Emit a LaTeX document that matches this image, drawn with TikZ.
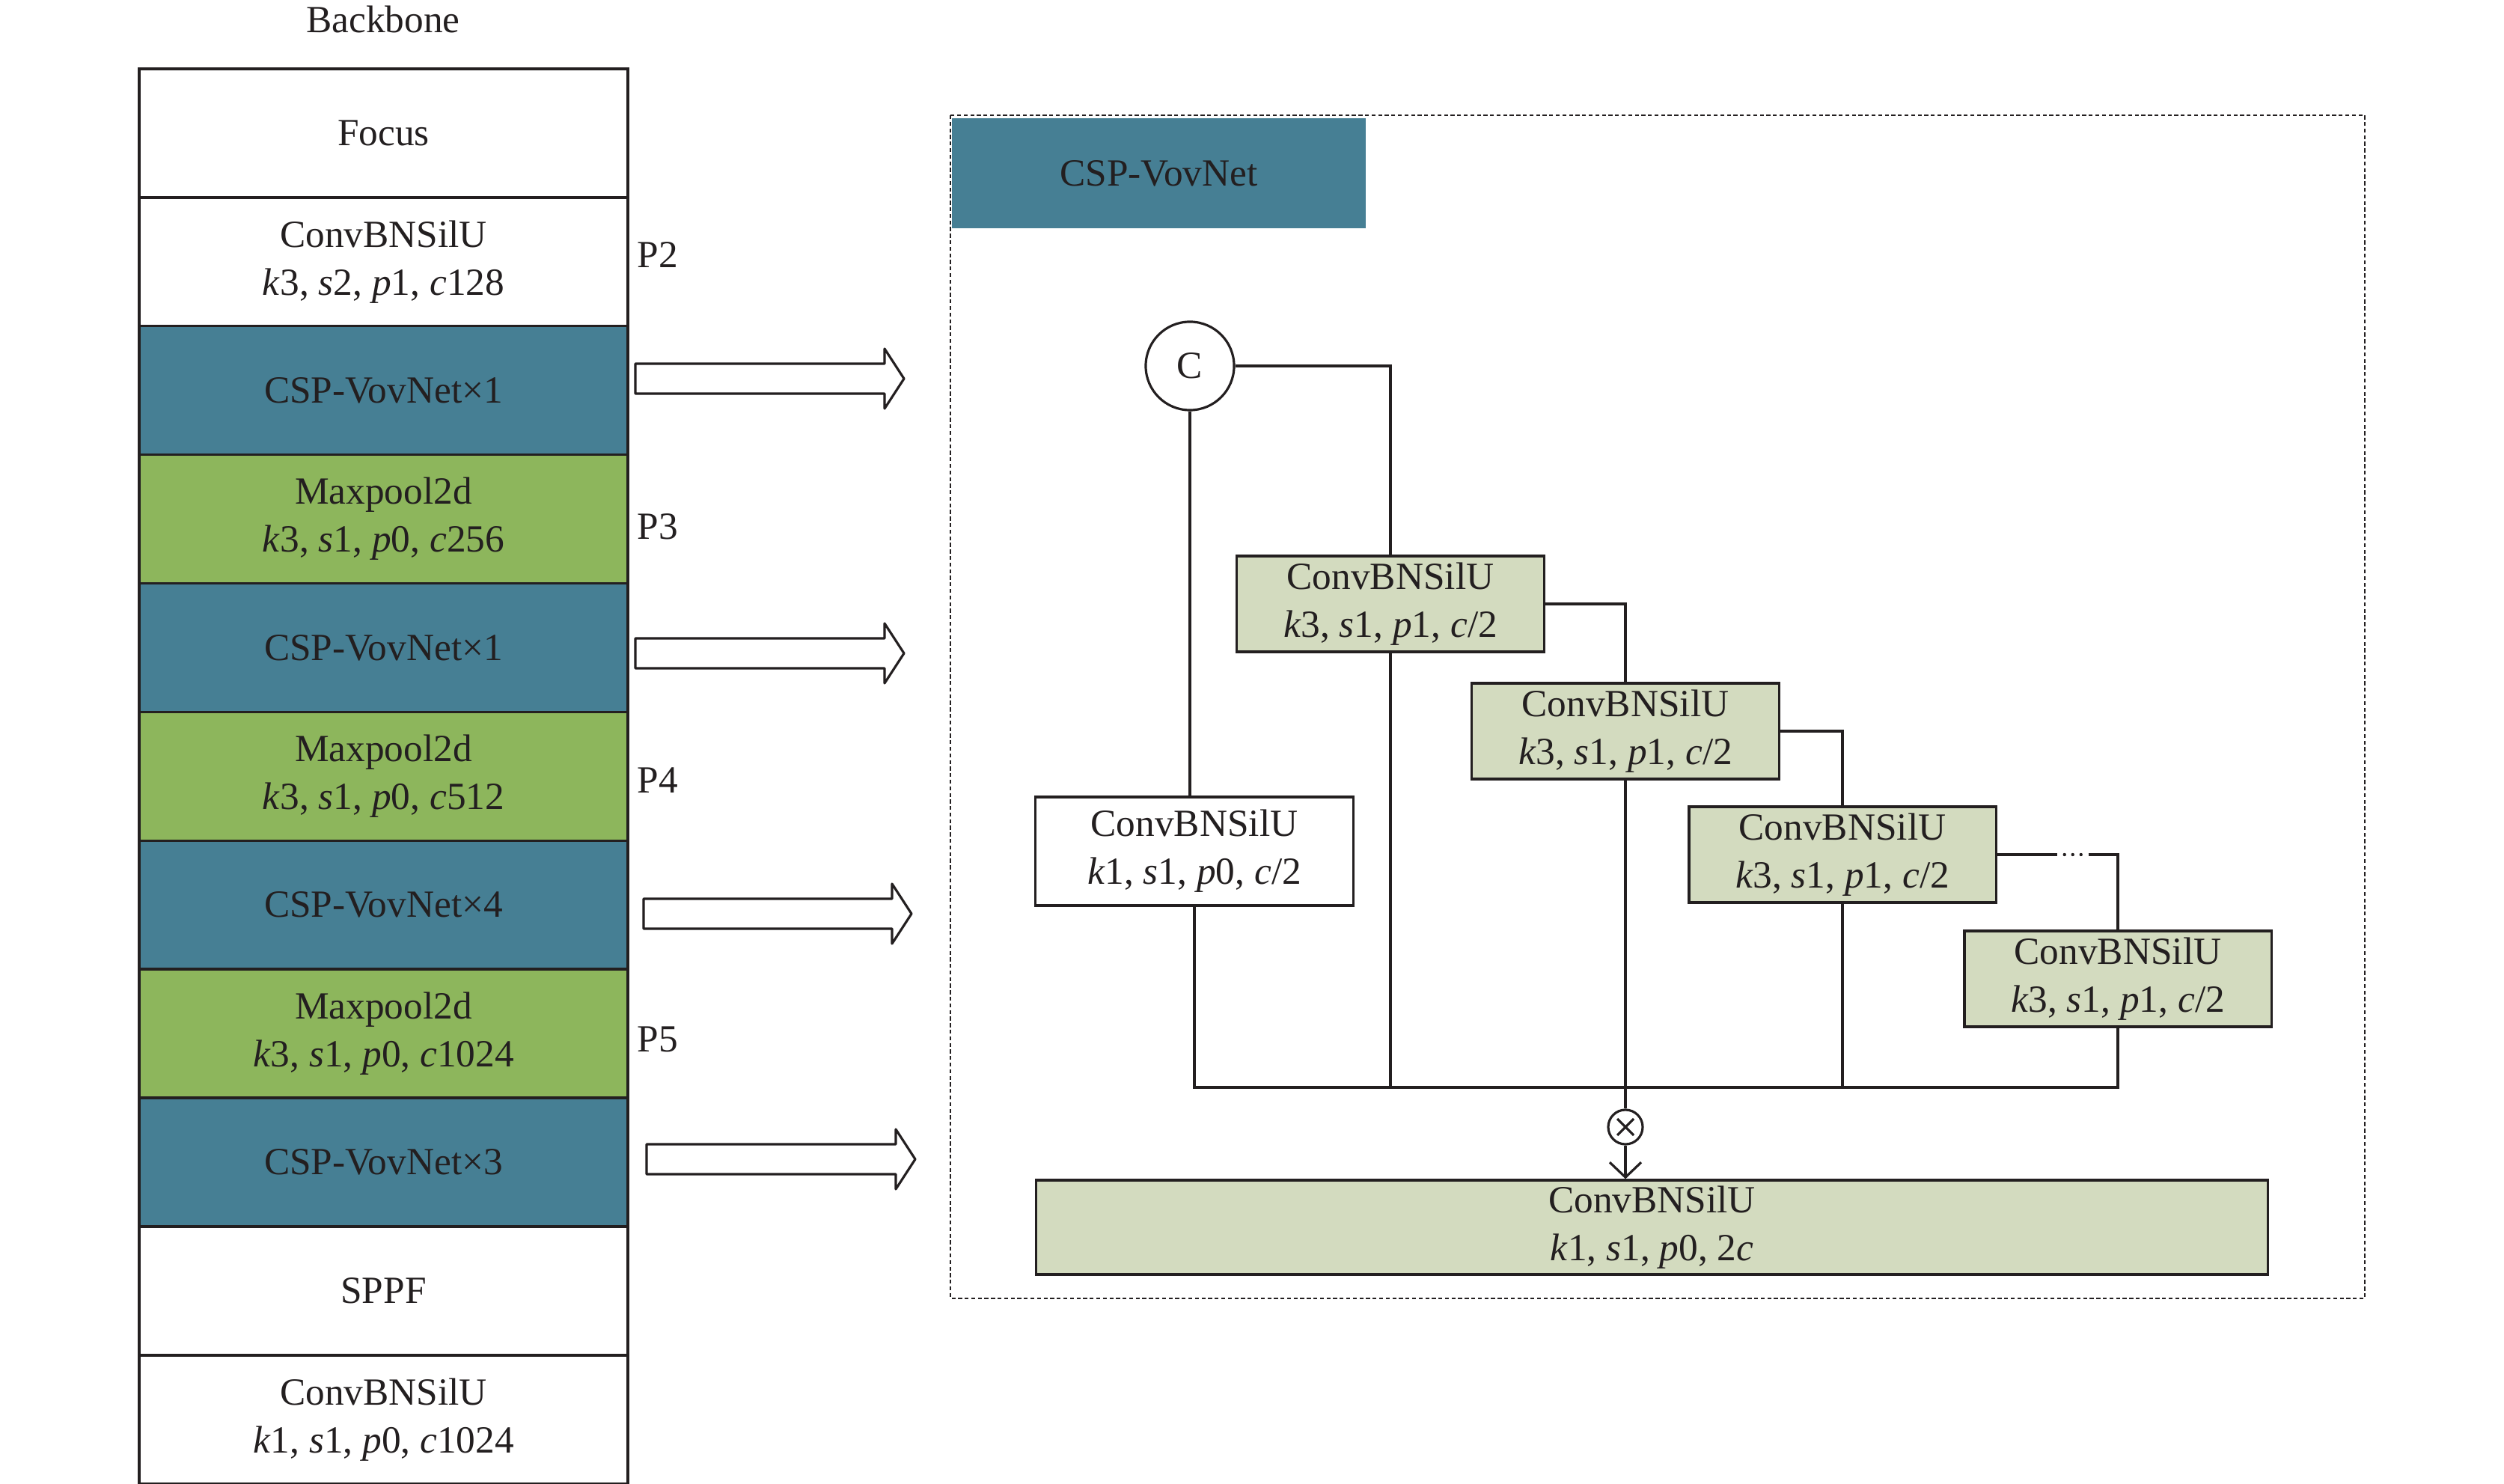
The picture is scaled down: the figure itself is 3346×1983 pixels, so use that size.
\documentclass[tikz,border=0pt]{standalone}
\usepackage{fontspec}
\setmainfont{Liberation Serif}
\usetikzlibrary{positioning,arrows.meta,calc}
\definecolor{ink}{HTML}{231F20}
\definecolor{cspteal}{HTML}{467F94}
\definecolor{poolgreen}{HTML}{8DB65C}
\definecolor{palegreen}{HTML}{D3DBBF}
\newcommand{\kspc}[4]{\textit{k}#1, \textit{s}#2, \textit{p}#3, \textit{c}#4}
\newcommand{\hollowarrow}[3]{\draw[line width=0.9pt, line join=round] (#1,#3-20) -- (#2-26,#3-20) -- (#2-26,#3-40) -- (#2,#3) -- (#2-26,#3+40) -- (#2-26,#3+20) -- (#1,#3+20) -- cycle;}
\begin{document}
\begin{tikzpicture}[x=0.01cm,y=-0.01cm,ink,
    font=\fontsize{14.6}{18.2}\selectfont,
    bb/.style={draw, line width=1pt, minimum width=6.53cm, minimum height=1.718cm,
        outer sep=0pt, inner sep=0pt, align=center},
    cbs/.style={draw, fill=palegreen, line width=0.9pt, minimum width=4.1cm,
        minimum height=1.28cm, inner sep=0pt, align=center},
    link/.style={line width=0.9pt}]
    \useasboundingbox (0,0) rectangle (3346,1983);
    % backbone column
    \node (backbone) at (512,26) {Backbone};
    \node[bb] (focus) at (512.5,177.9) {Focus};
    \node[bb, below=0pt of focus] (conv1) {ConvBNSilU\\\kspc{3}{2}{1}{128}};
    \node[bb, fill=cspteal, below=0pt of conv1] (csp1) {CSP-VovNet×1};
    \node[bb, fill=poolgreen, below=0pt of csp1] (pool1) {Maxpool2d\\\kspc{3}{1}{0}{256}};
    \node[bb, fill=cspteal, below=0pt of pool1] (csp2) {CSP-VovNet×1};
    \node[bb, fill=poolgreen, below=0pt of csp2] (pool2) {Maxpool2d\\\kspc{3}{1}{0}{512}};
    \node[bb, fill=cspteal, below=0pt of pool2] (csp3) {CSP-VovNet×4};
    \node[bb, fill=poolgreen, below=0pt of csp3] (pool3) {Maxpool2d\\\kspc{3}{1}{0}{1024}};
    \node[bb, fill=cspteal, below=0pt of pool3] (csp4) {CSP-VovNet×3};
    \node[bb, below=0pt of csp4] (sppf) {SPPF};
    \node[bb, below=0pt of sppf] (conv2) {ConvBNSilU\\\kspc{1}{1}{0}{1024}};
    % stage labels
    \node[anchor=west, inner sep=0pt] (p2) at (851,341) {P2};
    \node[anchor=west, inner sep=0pt] (p3) at (851,704) {P3};
    \node[anchor=west, inner sep=0pt] (p4) at (851,1043) {P4};
    \node[anchor=west, inner sep=0pt] (p5) at (851,1389) {P5};
    % hollow arrows
    \hollowarrow{849}{1208}{506}
    \hollowarrow{849}{1208}{873}
    \hollowarrow{860}{1218}{1221}
    \hollowarrow{864}{1223}{1549}
    % CSP-VovNet block
    \draw[line width=0.6pt, dash pattern=on 1.5pt off 1pt] (1270,154) rectangle (3160,1735);
    \node[fill=cspteal, minimum width=5.53cm, minimum height=1.47cm, inner sep=0pt] (title) at (1548.5,231.5) {CSP-VovNet};
    \node[circle, draw, line width=0.9pt, minimum size=1.18cm, inner sep=0pt] (concat) at (1590,489) {C};
    \node[cbs] (convA) at (1858,807) {ConvBNSilU\\\kspc{3}{1}{1}{/2}};
    \node[cbs] (convB) at (2172,977) {ConvBNSilU\\\kspc{3}{1}{1}{/2}};
    \node[cbs] (convC) at (2462,1142) {ConvBNSilU\\\kspc{3}{1}{1}{/2}};
    \node[cbs] (convD) at (2830,1308) {ConvBNSilU\\\kspc{3}{1}{1}{/2}};
    \node[draw, fill=white, line width=0.9pt, minimum width=4.25cm, minimum height=1.45cm, inner sep=0pt, align=center] (convE) at (1596,1137.5) {ConvBNSilU\\\kspc{1}{1}{0}{/2}};
    \node[circle, draw, line width=0.9pt, minimum size=0.46cm, inner sep=0pt] (mult) at (2172,1506) {};
    \draw[link] ($(mult.center)+(-11,-11)$) -- ($(mult.center)+(11,11)$);
    \draw[link] ($(mult.center)+(-11,11)$) -- ($(mult.center)+(11,-11)$);
    \node[cbs, minimum width=16.45cm, minimum height=1.26cm] (convF) at (2207.5,1640) {ConvBNSilU\\\textit{k}1, \textit{s}1, \textit{p}0, 2\textit{c}};
    \coordinate (bus) at (0,1453);
    \coordinate (dotsL) at ($(convC.east)+(80,0)$);
    \coordinate (dotsR) at ($(convC.east)+(122,0)$);
    % connections
    \draw[link] (concat.east) -| (convA.north);
    \draw[link] (convA.east) -| (convB.north);
    \draw[link] (convB.east) -| (convC.north);
    \draw[link] (convC.east) -- (dotsL);
    \foreach \dx in {10,21,32} \fill ($(dotsL)+(\dx,0)$) circle (2.2);
    \draw[link] (dotsR) -| (convD.north);
    \draw[link] (concat.south) -- (concat.south |- convE.north);
    \draw[link] (convE.south) |- (convD.south |- bus) -- (convD.south);
    \draw[link] (convA.south) -- (convA.south |- bus);
    \draw[link] (convB.south) -- (convB.south |- bus);
    \draw[link] (convC.south) -- (convC.south |- bus);
    \draw[link] (convB.south |- bus) -- (mult.north);
    \draw[link, -{Straight Barb[length=2mm, width=4.2mm]}] (mult.south) -- (mult.south |- convF.north);
\end{tikzpicture}
\end{document}
